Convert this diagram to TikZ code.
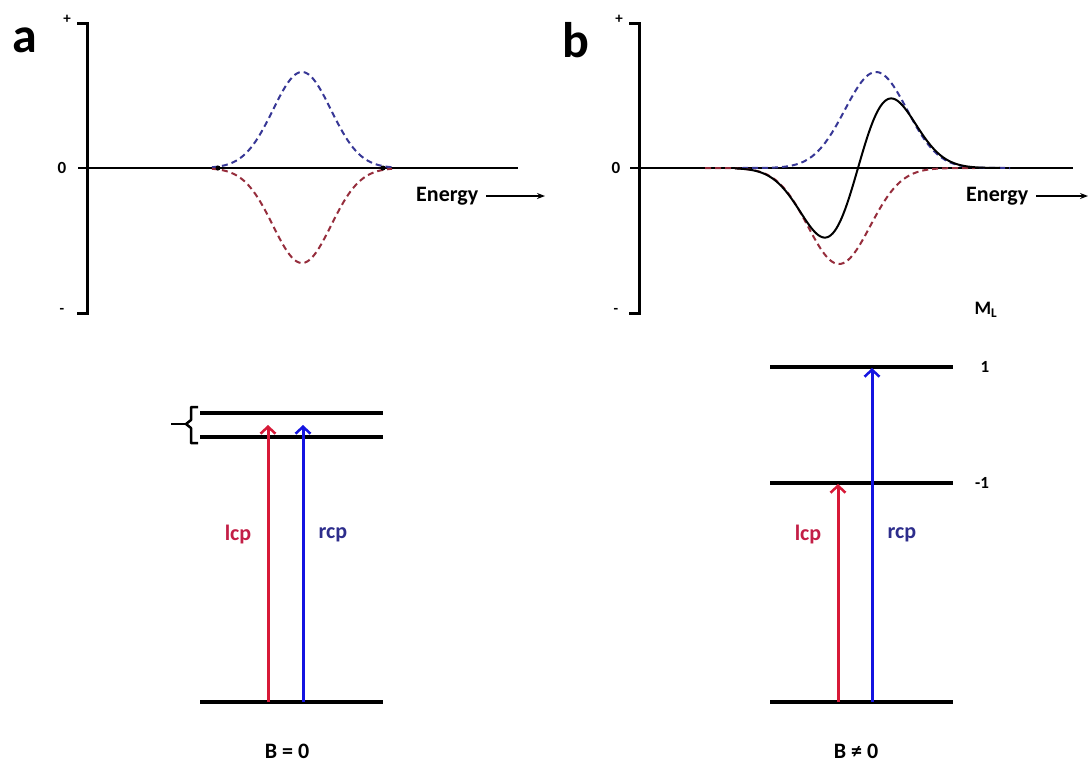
\documentclass[tikz,border=0pt]{standalone}
\usepackage{fontspec}
\setmainfont{Carlito}
\usetikzlibrary{arrows.meta}
\definecolor{lcpred}{RGB}{215,25,55}
\definecolor{rcpblue}{RGB}{20,20,225}
\definecolor{dashblue}{RGB}{55,55,150}
\definecolor{dashred}{RGB}{150,45,60}
\definecolor{lcptext}{RGB}{195,30,70}
\definecolor{rcptext}{RGB}{45,45,140}
\tikzset{
  declare function={gs(\t,\c,\s)=exp(-((\t-\c)/\s)*((\t-\c)/\s));},
  axisline/.style={line width=3pt, line join=miter},
  zeroline/.style={line width=1.8pt},
  level/.style={line width=3.5pt},
  dashcurve/.style={line width=2pt, dash pattern=on 6pt off 4pt},
  solidcurve/.style={line width=2pt},
  trans/.style={line width=3pt, -{Straight Barb[length=7pt,width=15pt,line width=2.5pt]}},
  energyarrow/.style={line width=1.3pt, -{Stealth[length=8pt,width=6pt]}},
  lbl/.style={font=\bfseries\fontsize{22}{26}\selectfont, inner sep=0pt},
  panel/.style={font=\bfseries\fontsize{50}{56}\selectfont, inner sep=0pt},
  ticklbl/.style={font=\bfseries\fontsize{17}{20}\selectfont, inner sep=0pt},
  pmlbl/.style={font=\bfseries\fontsize{15}{18}\selectfont, inner sep=0pt},
}
\begin{document}
\begin{tikzpicture}[x=1pt,y=-1pt]
\useasboundingbox (0,0) rectangle (1088,772);
\fill[white] (0,0) rectangle (1088,772);

% ---------------- Panel a (spectrum) ----------------
\node[panel] (pa) at (25,40) {a};
\coordinate (aT) at (87,23);
\coordinate (aB) at (87,313);
\draw[axisline] (77,23) -- (aT) -- (aB) -- (77,313);
\node[pmlbl] (aplus) at (67,19) {+};
\node[pmlbl] (aminus) at (62,311) {-};
\node[ticklbl] (azero) at (62,168) {0};
\coordinate (a0l) at (78,168);
\coordinate (a0r) at (518,168);
\draw[zeroline] (a0l) -- (a0r);
\draw[dashcurve, dashblue] plot[domain=212:392, samples=100] (\x, {168-96*gs(\x,302,41)});
\draw[dashcurve, dashred] plot[domain=212:392, samples=100] (\x, {168+95*gs(\x,302,41)});
\fill (218,168) circle (2.5pt);
\fill (383,168) circle (2.5pt);
\node[lbl, anchor=west] (aen) at (416,196) {Energy};
\coordinate (aenend) at (545,196);
\draw[energyarrow] ([xshift=8pt]aen.east) -- (aenend);

% ---------------- Panel b (spectrum) ----------------
\node[panel] (pb) at (576,40) {b};
\coordinate (bT) at (639,23);
\coordinate (bB) at (639,313);
\draw[axisline] (629,23) -- (bT) -- (bB) -- (629,313);
\node[pmlbl] (bplus) at (619,19) {+};
\node[pmlbl] (bminus) at (616,311) {-};
\node[ticklbl] (bzero) at (616,168) {0};
\coordinate (b0l) at (630,168);
\coordinate (b0r) at (1073,168);
\draw[zeroline] (b0l) -- (b0r);
\draw[dashcurve, dashblue] plot[domain=742:1010, samples=120] (\x, {168-96*gs(\x,876,44)});
\draw[dashcurve, dashred] plot[domain=705:975, samples=120] (\x, {168+96*gs(\x,839,44)});
\draw[solidcurve] plot[domain=735:1000, samples=150] (\x, {168-106*(gs(\x,877,44)-gs(\x,839,44))});
\node[lbl, anchor=west] (ben) at (966,196) {Energy};
\coordinate (benend) at (1088,196);
\draw[energyarrow] ([xshift=8pt]ben.east) -- (benend);
\node[font=\bfseries\fontsize{19}{22}\selectfont, inner sep=0pt] (ml) at (986,310) {M\textsubscript{L}};

% ---------------- Panel a (levels) ----------------
\coordinate (aU1) at (200,413); \coordinate (aU2) at (383,413);
\coordinate (aL1) at (200,437); \coordinate (aL2) at (383,437);
\coordinate (aG1) at (200,702); \coordinate (aG2) at (383,702);
\draw[level] (aU1) -- (aU2);
\draw[level] (aL1) -- (aL2);
\draw[level] (aG1) -- (aG2);
\draw[line width=2.5pt, line join=round] (198,407) -- (191,407) -- (191,420) -- (186,424) -- (191,428) -- (191,443) -- (198,443);
\draw[line width=2.5pt] (171,424) -- (186,424);
\coordinate (arS) at (268,702); \coordinate (arE) at (268,425);
\coordinate (abS) at (303,702); \coordinate (abE) at (303,425);
\draw[trans, lcpred] (arS) -- (arE);
\draw[trans, rcpblue] (abS) -- (abE);
\node[lbl, text=lcptext] (alcp) at (238,535) {lcp};
\node[lbl, text=rcptext] (arcp) at (333,535) {rcp};
\node[lbl] (aB0) at (287,751) {B = 0};

% ---------------- Panel b (levels) ----------------
\coordinate (bU1) at (770,367); \coordinate (bU2) at (953,367);
\coordinate (bM1) at (770,483); \coordinate (bM2) at (953,483);
\coordinate (bG1) at (770,702); \coordinate (bG2) at (953,702);
\draw[level] (bU1) -- (bU2);
\draw[level] (bM1) -- (bM2);
\draw[level] (bG1) -- (bG2);
\node[ticklbl] (bl1) at (985,367) {1};
\node[ticklbl] (blm1) at (982,483) {-1};
\coordinate (brS) at (838,702); \coordinate (brE) at (838,484);
\coordinate (bbS) at (872,702); \coordinate (bbE) at (872,368);
\draw[trans, lcpred] (brS) -- (brE);
\draw[trans, rcpblue] (bbS) -- (bbE);
\node[lbl, text=lcptext] (blcp) at (808,535) {lcp};
\node[lbl, text=rcptext] (brcp) at (902,535) {rcp};
\node[lbl] (bB0) at (856,751) {B ≠ 0};
\end{tikzpicture}
\end{document}
